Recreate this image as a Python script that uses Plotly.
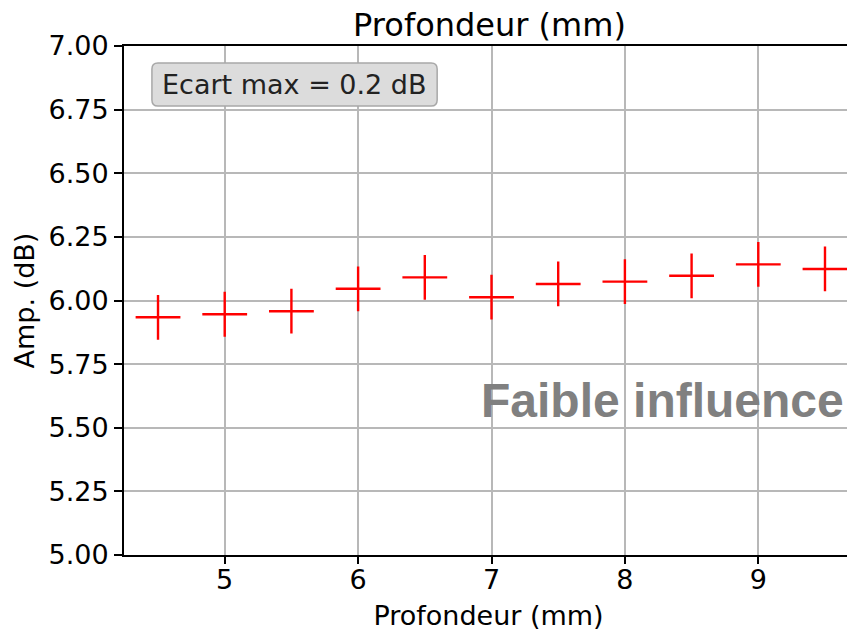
import plotly.graph_objects as go

profondeur = [4.5, 5.0, 5.5, 6.0, 6.5, 7.0, 7.5, 8.0, 8.5, 9.0, 9.5]
amplitude = [5.934, 5.946, 5.958, 6.046, 6.091, 6.013, 6.065, 6.074, 6.097, 6.142, 6.124]
x_ticks = [5, 6, 7, 8, 9]
y_ticks = [5.00, 5.25, 5.50, 5.75, 6.00, 6.25, 6.50, 6.75, 7.00]
y_tick_labels = ["5.00", "5.25", "5.50", "5.75", "6.00", "6.25", "6.50", "6.75", "7.00"]

FONT = "DejaVu Sans"

fig = go.Figure()
fig.add_trace(go.Scatter(
    x=profondeur, y=amplitude, mode="markers",
    marker=dict(symbol="cross-thin", size=32, color="red",
                line=dict(color="red", width=2.4)),
    showlegend=False,
))

axis_common = dict(
    showline=True, linecolor="black", linewidth=2, mirror=True,
    ticks="outside", tickwidth=2, tickcolor="black",
    showgrid=True, gridcolor="#b8b8b8", gridwidth=1.5,
    zeroline=False, tickfont=dict(family=FONT, size=27, color="black"),
)

# page body adds an 8px offset; figure is sized to compensate
fig.update_layout(
    width=847, height=623,
    margin=dict(l=116, r=0, t=38, b=76),
    paper_bgcolor="white", plot_bgcolor="white",
    title=dict(text="Profondeur (mm)", x=0.5685, xanchor="center",
               y=0.973, yanchor="middle",
               font=dict(family=FONT, size=32, color="black")),
    xaxis=dict(range=[4.245, 9.71], tickvals=x_ticks, ticklen=7,
               ticklabelstandoff=-7,
               title=dict(text="Profondeur (mm)", standoff=13,
                          font=dict(family=FONT, size=27, color="black")),
               **axis_common),
    yaxis=dict(range=[5.0, 7.0], tickvals=y_ticks, ticktext=y_tick_labels,
               ticklen=8,
               title=dict(text="Amp. (dB)", standoff=6,
                          font=dict(family=FONT, size=27, color="black")),
               **axis_common),
)

# rounded box behind the "Ecart max" label
x0, x1, y0, y1 = 4.4543, 6.5926, 6.7642, 6.9332
rx, ry = 0.045, 0.024
path = (f"M {x0+rx},{y0} L {x1-rx},{y0} Q {x1},{y0} {x1},{y0+ry} "
        f"L {x1},{y1-ry} Q {x1},{y1} {x1-rx},{y1} L {x0+rx},{y1} "
        f"Q {x0},{y1} {x0},{y1-ry} L {x0},{y0+ry} Q {x0},{y0} {x0+rx},{y0} Z")
fig.add_shape(type="path", path=path, xref="x", yref="y",
              fillcolor="#dcdcdc", line=dict(color="#a8a8a8", width=1.5),
              layer="above")

fig.add_annotation(
    x=(x0 + x1) / 2, y=(y0 + y1) / 2, xref="x", yref="y",
    xanchor="center", yanchor="middle",
    text="Ecart max = 0.2 dB", showarrow=False,
    font=dict(family=FONT, size=27, color="#222222"),
)

fig.add_annotation(
    x=8.282, y=5.609, xref="x", yref="y", xanchor="center", yanchor="middle",
    text="<b>Faible influence</b>", showarrow=False,
    font=dict(family="Liberation Sans", size=48, color="#808080"),
)

fig.write_html("out.html")
